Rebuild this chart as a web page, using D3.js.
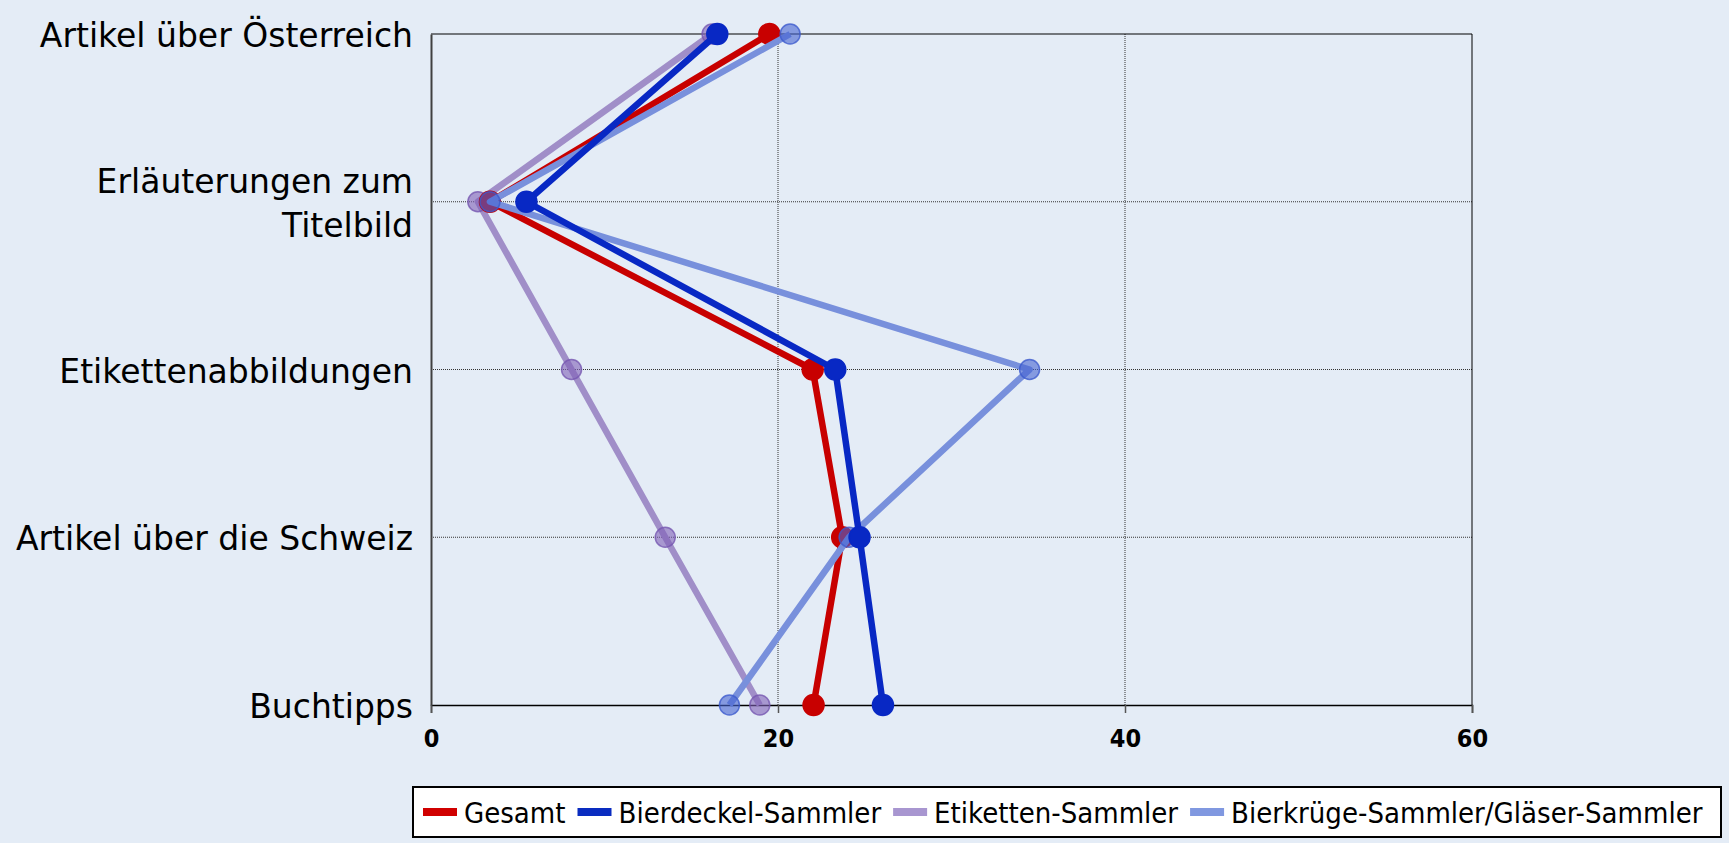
<!DOCTYPE html>
<html>
<head>
<meta charset="utf-8">
<script src="https://cdn.jsdelivr.net/npm/d3@7"></script>
<style>
  html, body { margin: 0; padding: 0; background: #e4ecf6; }
  svg { display: block; }
</style>
</head>
<body>
<svg width="1729" height="843"></svg>
<script>
// Daten
const categories = [
  "Artikel über Österreich",
  "Erläuterungen zum\nTitelbild",
  "Etikettenabbildungen",
  "Artikel über die Schweiz",
  "Buchtipps"
]
const seriesNames = ["Gesamt", "Bierdeckel-Sammler", "Etiketten-Sammler", "Bierkrüge-Sammler/Gläser-Sammler"]
const gesamt = [19.5, 3.4, 22.0, 23.7, 22.05]
const bierdeckel = [16.5, 5.5, 23.3, 24.7, 26.05]
const etiketten = [16.2, 2.7, 8.1, 13.5, 18.95]
const bierkruege = [20.7, 3.4, 34.5, 24.1, 17.2]
const xTicks = [0, 20, 40, 60]

// Dimensionen
const plotLeft = 431
const plotRight = 1472
const plotTop = 34
const plotBottom = 705

const svg = d3.select("svg")

const xScale = d3.scaleLinear([0, 60], [plotLeft, plotRight])
const yScale = d3.scalePoint(categories, [plotTop, plotBottom])

// Stile der Reihen
const styles = [
  {line: "#c80000", fill: "#c80000", stroke: "#c80000", r: 10.5},
  {line: "#0828c4", fill: "#0828c4", stroke: "#0828c4", r: 10.5},
  {line: "#a08ec8", fill: "rgba(128,96,184,0.6)", stroke: "rgba(118,86,176,0.8)", r: 10},
  {line: "#7890dc", fill: "rgba(70,100,210,0.6)", stroke: "rgba(60,90,205,0.8)", r: 10}
]
const legendColors = ["#d00000", "#0a2cc0", "#a896d0", "#8098e0"]
const allValues = [gesamt, bierdeckel, etiketten, bierkruege]

// Gitter
const grid = svg.append("g")
grid.selectAll("line.h")
  .data(categories.slice(1, -1))
  .join("line")
    .attr("x1", plotLeft)
    .attr("x2", plotRight)
    .attr("y1", d => yScale(d))
    .attr("y2", d => yScale(d))
    .attr("stroke", "#333")
    .attr("stroke-width", 1)
    .attr("stroke-dasharray", "1,1")
grid.selectAll("line.v")
  .data([20, 40])
  .join("line")
    .attr("x1", d => xScale(d))
    .attr("x2", d => xScale(d))
    .attr("y1", plotTop)
    .attr("y2", plotBottom)
    .attr("stroke", "#333")
    .attr("stroke-width", 1)
    .attr("stroke-dasharray", "1,1")

// Rahmen oben / rechts
svg.append("path")
  .attr("d", `M${plotLeft},${plotTop}H${plotRight}V${plotBottom}`)
  .attr("fill", "none")
  .attr("stroke", "#000")
  .attr("stroke-width", 1)

// x-Achse
const xAxis = d3.axisBottom(xScale).tickValues(xTicks).tickSize(8).tickPadding(16)
const xg = svg.append("g")
  .attr("transform", `translate(0, ${plotBottom})`)
  .call(xAxis)
xg.select(".domain").attr("stroke", "#000").attr("stroke-width", 1.5)
xg.selectAll(".tick line").attr("stroke", "#555").attr("stroke-width", 1.5)
xg.selectAll(".tick text")
  .attr("font-family", "'DejaVu Sans Condensed', 'DejaVu Sans', sans-serif")
  .attr("font-stretch", "condensed")
  .attr("font-weight", "bold")
  .attr("font-size", "25px")
  .attr("fill", "#000")

// y-Achse
const yAxis = d3.axisLeft(yScale).tickSize(0).tickPadding(18)
const yg = svg.append("g")
  .attr("transform", `translate(${plotLeft}, 0)`)
  .call(yAxis)
yg.select(".domain").attr("stroke", "#404040").attr("stroke-width", 2)
yg.selectAll(".tick text")
  .attr("font-family", "'DejaVu Sans', Verdana, sans-serif")
  .attr("font-size", "33px")
  .attr("fill", "#000")
  .attr("dy", null)
  .each(function(d) {
    const lines = d.split("\n")
    const t = d3.select(this).text(null)
    lines.forEach((l, i) => {
      t.append("tspan")
        .attr("x", -18)
        .attr("dy", i === 0 ? (0.38 - (lines.length - 1) * 0.66) + "em" : "1.32em")
        .text(l)
    })
  })

// Linien und Punkte
const line = d3.line()
  .x(d => xScale(d.v))
  .y(d => yScale(d.c))

const drawOrder = [2, 0, 3, 1]
drawOrder.forEach(i => {
  const pts = allValues[i].map((v, j) => ({v: v, c: categories[j]}))
  const g = svg.append("g")
  g.append("path")
    .datum(pts)
    .attr("d", line)
    .attr("fill", "none")
    .attr("stroke", styles[i].line)
    .attr("stroke-width", 6.5)
    .attr("stroke-linejoin", "round")
  g.selectAll("circle")
    .data(pts)
    .join("circle")
      .attr("cx", d => xScale(d.v))
      .attr("cy", d => yScale(d.c))
      .attr("r", styles[i].r)
      .attr("fill", styles[i].fill)
      .attr("stroke", styles[i].stroke)
      .attr("stroke-width", 1.5)
})

// Legende
const legend = svg.append("g")
legend.append("rect")
  .attr("x", 413)
  .attr("y", 787)
  .attr("width", 1308)
  .attr("height", 50)
  .attr("fill", "#fff")
  .attr("stroke", "#000")
  .attr("stroke-width", 2)

let lx = 423
seriesNames.forEach((name, i) => {
  legend.append("rect")
    .attr("x", lx)
    .attr("y", 808)
    .attr("width", 34)
    .attr("height", 8)
    .attr("fill", legendColors[i])
  const t = legend.append("text")
    .attr("x", lx + 41)
    .attr("y", 823)
    .attr("font-family", "'DejaVu Sans Condensed', 'DejaVu Sans', sans-serif")
    .attr("font-stretch", "condensed")
    .attr("font-size", "29px")
    .attr("fill", "#000")
    .text(name)
  lx = lx + 41 + t.node().getComputedTextLength() + 12
})
</script>
</body>
</html>
